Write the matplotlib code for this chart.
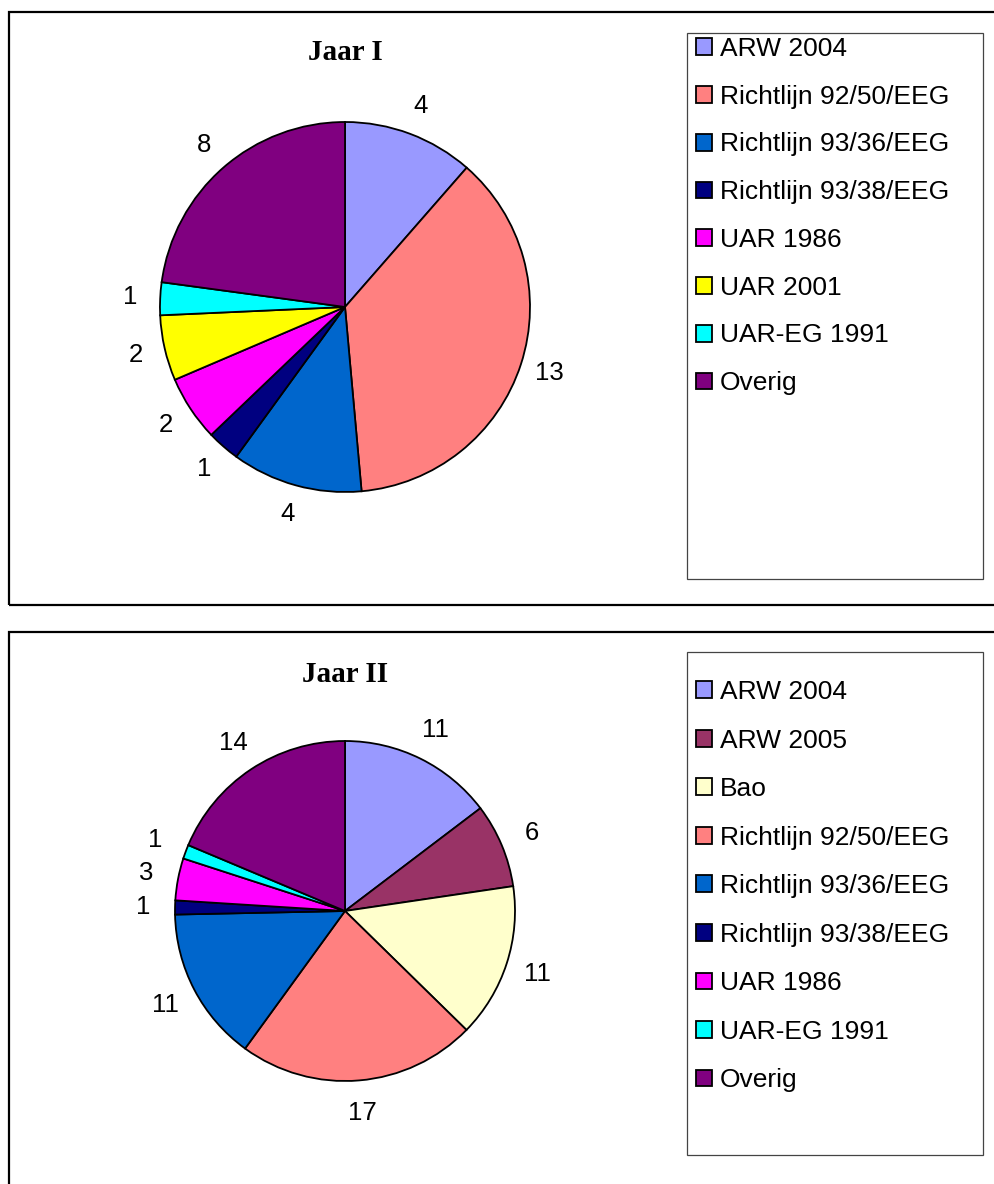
import matplotlib.pyplot as plt
from matplotlib.patches import Rectangle

# Jaar I
labels_1 = ["ARW 2004", "Richtlijn 92/50/EEG", "Richtlijn 93/36/EEG",
            "Richtlijn 93/38/EEG", "UAR 1986", "UAR 2001", "UAR-EG 1991", "Overig"]
values_1 = [4, 13, 4, 1, 2, 2, 1, 8]
colors_1 = ["#9999FF", "#FF8080", "#0066CC", "#000080", "#FF00FF", "#FFFF00",
            "#00FFFF", "#800080"]

# Jaar II
labels_2 = ["ARW 2004", "ARW 2005", "Bao", "Richtlijn 92/50/EEG", "Richtlijn 93/36/EEG",
            "Richtlijn 93/38/EEG", "UAR 1986", "UAR-EG 1991", "Overig"]
values_2 = [11, 6, 11, 17, 11, 1, 3, 1, 14]
colors_2 = ["#9999FF", "#993366", "#FFFFCC", "#FF8080", "#0066CC", "#000080",
            "#FF00FF", "#00FFFF", "#800080"]

W, H = 995, 1184
fig = plt.figure(figsize=(W / 100, H / 100), dpi=100)


def fx(px):
    return px / W


def fy(py):
    return 1 - py / H


def panel(values, labels, colors, title, cx, cy, r, title_y, frame_top, frame_bot,
          leg_top, leg_bot, leg_first, spacing, lab_dist):
    # outer frame of the chart area
    fig.add_artist(Rectangle((fx(9), fy(frame_bot)), fx(1100), fy(frame_top) - fy(frame_bot),
                             transform=fig.transFigure, fill=False, ec="black", lw=1.6))
    # legend box
    fig.add_artist(Rectangle((fx(687), fy(leg_bot)), fx(983 - 687), fy(leg_top) - fy(leg_bot),
                             transform=fig.transFigure, fill=False, ec="#444444", lw=0.9))

    lim = 1.45
    half = lim * r
    ax = fig.add_axes([fx(cx - half), fy(cy + half), 2 * half / W, 2 * half / H])
    total = sum(values)
    wedges, texts, autotexts = ax.pie(
        values, colors=colors, startangle=90, counterclock=False,
        wedgeprops=dict(edgecolor="black", linewidth=1.3),
        autopct=lambda p: f"{round(p * total / 100):d}", pctdistance=lab_dist,
        textprops=dict(fontsize=18.5, family="Liberation Sans"))
    ax.set_xlim(-lim, lim)
    ax.set_ylim(-lim, lim)
    ax.set_aspect("equal")
    ax.axis("off")

    fig.text(fx(cx), fy(title_y), title, ha="center", va="center",
             fontsize=21, fontweight="bold", family="Liberation Serif")

    fig.legend(wedges, labels, loc="upper left",
               bbox_to_anchor=(fx(696), fy(leg_first - 13)), frameon=False,
               prop=dict(family="Liberation Sans", size=19),
               handlelength=0.6, handleheight=0.6, handletextpad=0.3,
               labelspacing=spacing, borderpad=0, borderaxespad=0)


panel(values_1, labels_1, colors_1, "Jaar I", 345, 307, 185, 52, 12, 605, 33, 579, 50, 0.9, 1.16)
panel(values_2, labels_2, colors_2, "Jaar II", 345, 911, 170, 675, 632, 1300, 652, 1155, 693, 0.93, 1.19)

fig.savefig("out.png", dpi=100)
